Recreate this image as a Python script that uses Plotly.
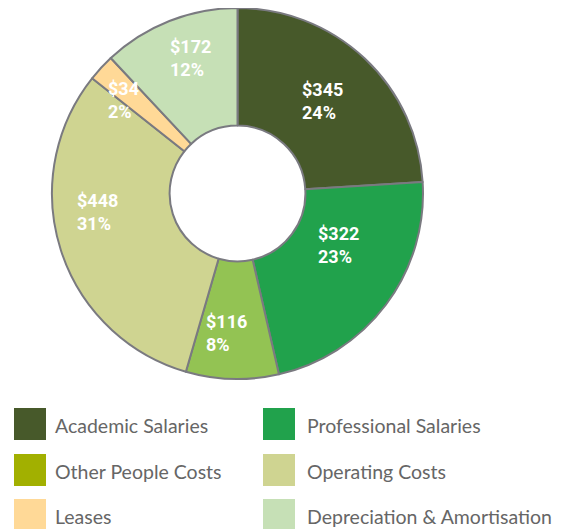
import math
import plotly.graph_objects as go

categories = ["Academic Salaries", "Professional Salaries", "Other People Costs",
              "Operating Costs", "Leases", "Depreciation & Amortisation"]
values = [345, 322, 116, 448, 34, 172]
pct_labels = ["24%", "23%", "8%", "31%", "2%", "12%"]
slice_colors = ["#47592A", "#21A24C", "#93C353", "#CFD491", "#FFD997", "#C6E0B6"]
legend_colors = ["#47592A", "#21A24C", "#A2B000", "#CFD491", "#FFD997", "#C6E0B6"]

# label nudges (pixels, from the mid-ring point of each slice)
label_nudge = [(-2, 0), (0, -24), (-7, 13), (-19, -20), (-21, -8), (0, -18)]

# the page body adds an 8px margin; lay everything out in reference pixels minus that
OFF = 8
W, H = 567 - OFF, 529 - OFF
cx, cy, R = 237.5 - OFF, 193.5 - OFF, 185.5
HOLE = 0.366

label_font = dict(family="Roboto", size=18, color="white", weight="bold")

fig = go.Figure()
fig.add_trace(go.Pie(
    labels=categories, values=values,
    sort=False, direction="clockwise", rotation=0, hole=HOLE,
    marker=dict(colors=slice_colors, line=dict(color="#7A7A80", width=2)),
    textinfo="none",
    hoverinfo="label+value", showlegend=False,
    domain=dict(x=[(cx - R) / W, (cx + R) / W],
                y=[max(0, 1 - (cy + R) / H), min(1, 1 - (cy - R) / H)]),
))

shapes, annots = [], []

# slice labels along each slice's mid-angle, at the middle of the ring
total = sum(values)
r_mid = R * (1 + HOLE) / 2
cum = 0
for v, p, (dx, dy) in zip(values, pct_labels, label_nudge):
    ang = (cum + v / 2) / total * 2 * math.pi
    x = cx + r_mid * math.sin(ang) + dx
    y = cy - r_mid * math.cos(ang) + dy
    annots.append(dict(xref="paper", yref="paper", x=x / W, y=1 - y / H,
                       text="$%d<br>%s" % (v, p), showarrow=False, align="left",
                       xanchor="center", yanchor="middle", font=label_font))
    cum += v

box_x = [14 - OFF, 263 - OFF]
text_x = [53 - OFF, 305 - OFF]
row_y = [424 - OFF, 470 - OFF, 515 - OFF]
BOX = 32
for i, (name, col) in enumerate(zip(categories, legend_colors)):
    c, r = i % 2, i // 2
    yc = row_y[r]
    shapes.append(dict(type="rect", xref="paper", yref="paper",
                       x0=box_x[c] / W, x1=(box_x[c] + BOX) / W,
                       y0=1 - (yc + BOX / 2) / H, y1=1 - (yc - BOX / 2) / H,
                       fillcolor=col, line=dict(width=0)))
    annots.append(dict(xref="paper", yref="paper", x=text_x[c] / W, y=1 - (yc + 1) / H,
                       text=name, showarrow=False, xanchor="left", yanchor="middle",
                       font=dict(family="Lato", size=19.5, color="#666666")))

fig.update_layout(
    width=W, height=H, margin=dict(l=0, r=0, t=0, b=0),
    paper_bgcolor="white", plot_bgcolor="white",
    shapes=shapes, annotations=annots,
)
fig.write_html("out.html")
